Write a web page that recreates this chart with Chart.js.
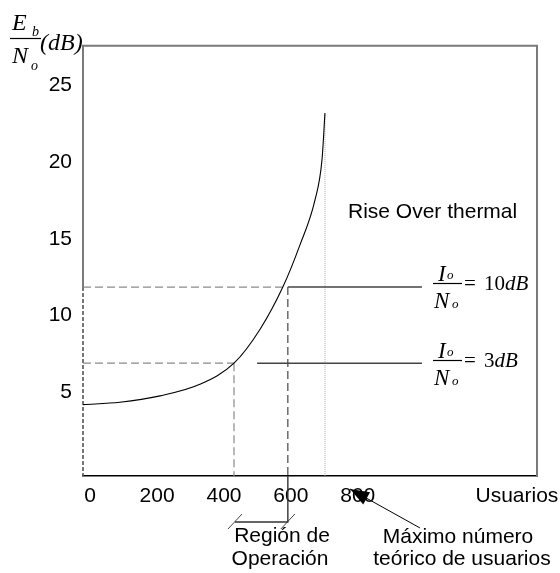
<!DOCTYPE html>
<html><head><meta charset="utf-8">
<script src="https://cdn.jsdelivr.net/npm/chart.js@4.4.0/dist/chart.umd.min.js"></script>
<style>html,body{margin:0;padding:0;background:#fff}</style>
</head><body>
<canvas id="c" width="560" height="573"></canvas>
<script>
// ---- data ----
const users = [-21.5, 89, 209, 328, 430, 508, 576, 627, 672, 693, 702];
const ebno  = [4.18, 4.33, 4.75, 5.50, 6.88, 9.10, 11.85, 14.59, 17.52, 20.13, 23.2];
const xTicks = [0, 200, 400, 600, 800];
const xTickLabels = ['0', '200', '400', '600', '800'];
const xTitle = 'Usuarios';
const xTitleValue = 1276;            // where "Usuarios" sits on the x scale
const yTicks = [5, 10, 15, 20, 25];
const xRange = [-21.5, 1336];
const yRange = [-0.48, 27.6];
const upperLevel = 11.85;            // Io/No = 10 dB working level
const lowerLevel = 6.88;             // Io/No = 3 dB working level
const upperUsers = 591;
const lowerUsers = 430;
const maxUsers = 702;
const maxLevel = 23.2;
const leaderUpperStart = 591, leaderLowerStart = 499, leaderEnd = 992;
const bracketLevel = -3.48, bracketLeft = 433;
const arrowFrom = [986, -3.87], arrowTip = [777, -1.33];

const pts = (xs, ys) => xs.map((x, i) => ({x, y: ys[i]}));
const seg = (x1, y1, x2, y2) => [{x: x1, y: y1}, {x: x2, y: y2}];

const guide = (data, color, dash, width) => ({
  data, borderColor: color, borderDash: dash, borderWidth: width,
  pointRadius: 0, tension: 0, clip: false, fill: false
});

const sans = 'Liberation Sans, Arial, sans-serif';
const serif = 'Liberation Serif, Times New Roman, serif';

const overlay = {
  id: 'overlay',
  afterDatasetsDraw(chart) {
    const {ctx, chartArea: a, scales: {x, y}} = chart;
    ctx.save();
    // frame: top & right gray borders, left axis solid upper part
    ctx.strokeStyle = '#7a7a7a'; ctx.lineWidth = 2; ctx.setLineDash([]);
    ctx.beginPath();
    ctx.moveTo(a.left, y.getPixelForValue(upperLevel));
    ctx.lineTo(a.left, a.top);
    ctx.lineTo(a.right, a.top);
    ctx.lineTo(a.right, a.bottom + 1);
    ctx.stroke();

    // arrow head
    const tx = x.getPixelForValue(arrowTip[0]), ty = y.getPixelForValue(arrowTip[1]);
    const fx = x.getPixelForValue(arrowFrom[0]), fy = y.getPixelForValue(arrowFrom[1]);
    const ang = Math.atan2(ty - fy, tx - fx);
    const L = 19, W = 7;
    ctx.fillStyle = '#000';
    ctx.beginPath();
    ctx.moveTo(tx, ty);
    ctx.lineTo(tx - L * Math.cos(ang) + W * Math.sin(ang), ty - L * Math.sin(ang) - W * Math.cos(ang));
    ctx.lineTo(tx - L * Math.cos(ang) - W * Math.sin(ang), ty - L * Math.sin(ang) + W * Math.cos(ang));
    ctx.closePath(); ctx.fill();

    ctx.fillStyle = '#000';
    ctx.textBaseline = 'alphabetic';
    // y title Eb/No (dB)
    ctx.textAlign = 'left';
    ctx.font = 'italic 24px ' + serif;
    ctx.fillText('E', 12, 30);
    ctx.fillText('N', 12, 63);
    ctx.fillText('(dB)', 40, 50);
    ctx.font = 'italic 14px ' + serif;
    ctx.fillText('b', 32, 36);
    ctx.fillText('o', 31, 70);
    ctx.strokeStyle = '#000'; ctx.lineWidth = 1.2;
    ctx.beginPath(); ctx.moveTo(10, 38.5); ctx.lineTo(41, 38.5); ctx.stroke();

    // Io/No fractions
    const frac = (by, val) => {
      ctx.font = 'italic 23px ' + serif;
      ctx.fillText('I', 438, by - 2);
      ctx.fillText('N', 434, by + 25);
      ctx.font = 'italic 13px ' + serif;
      ctx.fillText('o', 447, by - 4);
      ctx.fillText('o', 452, by + 25);
      ctx.beginPath(); ctx.moveTo(433, by + 0.5); ctx.lineTo(462, by + 0.5); ctx.stroke();
      ctx.font = '21px ' + serif;
      ctx.fillText('=', 464, by + 7);
      ctx.fillText(val, 484, by + 7);
      const w = ctx.measureText(val).width;
      ctx.font = 'italic 21px ' + serif;
      ctx.fillText('dB', 484 + w, by + 7);
    };
    frac(283, '10');
    frac(360, '3');

    // texts
    ctx.font = '21px ' + sans;
    ctx.textAlign = 'center';
    ctx.fillText(xTitle, x.getPixelForValue(xTitleValue), 502);
    ctx.textAlign = 'left';
    ctx.fillText('Rise Over thermal', 348, 218);
    ctx.textAlign = 'center';
    ctx.fillText('Región de', 282, 542);
    ctx.fillText('Operación', 280, 565);
    ctx.fillText('Máximo número', 458, 543);
    ctx.fillText('teórico de usuarios', 462, 565);
    ctx.restore();
  }
};

new Chart(document.getElementById('c'), {
  type: 'line',
  data: {
    datasets: [
      {data: pts(users, ebno), borderColor: '#000', borderWidth: 1.1, pointRadius: 0,
       cubicInterpolationMode: 'monotone', fill: false},
      guide(seg(xRange[0], upperLevel, 576, upperLevel), '#8a8a8a', [8, 4], 1.2),
      guide(seg(leaderUpperStart, upperLevel, leaderEnd, upperLevel), '#444', [], 1.5),
      guide(seg(upperUsers, upperLevel, upperUsers, yRange[0]), '#444', [8, 4], 1.2),
      guide([{x: upperUsers, y: yRange[0]}, {x: upperUsers, y: bracketLevel}, {x: bracketLeft, y: bracketLevel}], '#333', [], 1.4),
      guide(seg(412, -3.94, 454, -2.96), '#444', [], 1),
      guide(seg(570, -3.94, 612, -2.96), '#444', [], 1),
      guide(seg(xRange[0], lowerLevel, lowerUsers, lowerLevel), '#8a8a8a', [8, 4], 1.2),
      guide(seg(lowerUsers, lowerLevel, lowerUsers, yRange[0]), '#8a8a8a', [8, 4], 1.2),
      guide(seg(leaderLowerStart, lowerLevel, leaderEnd, lowerLevel), '#444', [], 1.5),
      guide(seg(maxUsers, maxLevel, maxUsers, yRange[0]), '#aaa', [1, 1], 1),
      guide(seg(xRange[0], upperLevel, xRange[0], yRange[0]), '#555', [4, 2], 1.6),
      guide(seg(arrowFrom[0], arrowFrom[1], arrowTip[0], arrowTip[1]), '#000', [], 1)
    ]
  },
  options: {
    responsive: false, animation: false, devicePixelRatio: 1,
    layout: {padding: {top: 45.7, right: 23, left: 0, bottom: 0}},
    plugins: {legend: {display: false}, tooltip: {enabled: false}},
    scales: {
      x: {
        type: 'linear', min: xRange[0], max: xRange[1],
        grid: {display: false},
        border: {display: true, color: '#000', width: 1.5},
        ticks: {
          color: '#000', font: {family: sans, size: 21}, padding: 0,
          autoSkip: false, maxRotation: 0,
          callback: v => xTickLabels[xTicks.indexOf(v)]
        },
        afterBuildTicks: s => { s.ticks = xTicks.map(v => ({value: v})); },
        afterFit: s => { s.height = 97; }
      },
      y: {
        type: 'linear', min: yRange[0], max: yRange[1],
        grid: {display: false},
        border: {display: false},
        ticks: {color: '#000', font: {family: sans, size: 21}, padding: 3},
        afterBuildTicks: s => { s.ticks = yTicks.map(v => ({value: v})); },
        afterFit: s => { s.width = 83; }
      }
    }
  },
  plugins: [overlay]
});
</script>
</body></html>
